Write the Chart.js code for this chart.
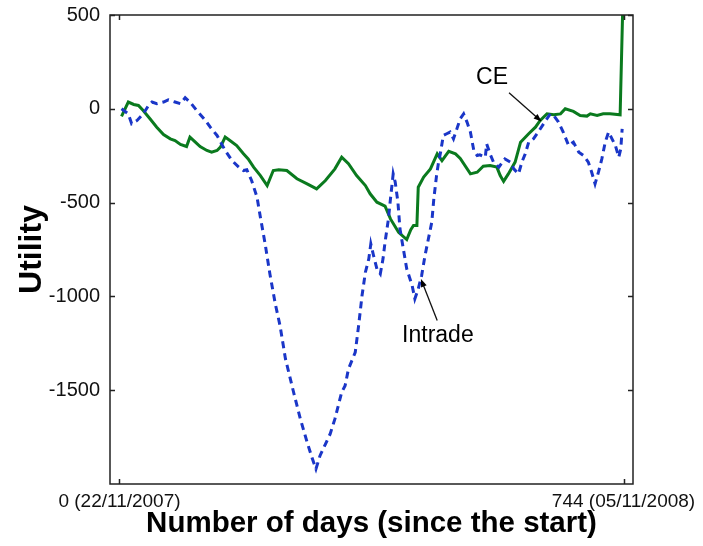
<!DOCTYPE html>
<html>
<head>
<meta charset="utf-8">
<script src="https://cdn.jsdelivr.net/npm/chart.js@4/dist/chart.umd.min.js"></script>
<style>
  html, body { margin: 0; padding: 0; background: #fff; }
  #wrap { width: 703px; height: 546px; }
</style>
</head>
<body>
<div id="wrap"><canvas id="chart" width="703" height="546"></canvas></div>
<script>
// Utility of the CE market vs Intrade, days since 22/11/2007
const ceDays = [3, 13, 21, 28, 35, 45, 55, 65, 75, 82, 90, 99, 104, 112, 119, 129, 136, 144, 149, 156,
    163, 173, 183, 190, 198, 208, 218, 227, 235, 247, 262, 277, 291, 304, 318, 328, 338, 350, 363, 370,
    380, 392, 400, 412, 424, 430, 434, 439, 441, 449, 459, 469, 476, 486, 496, 503, 518, 528, 537, 547,
    557, 562, 567, 574, 584, 592, 604, 614, 621, 631, 641, 651, 658, 670, 680, 690, 695, 705, 714, 724,
    739, 743]
const ceValues = [-40, 36, 23, 18, -9, -53, -98, -137, -160, -169, -190, -201, -151, -178, -201, -222, -231, -222, -204, -151,
    -169, -196, -240, -267, -311, -356, -409, -329, -325, -329, -373, -400, -427, -382, -320, -258, -293, -356, -409, -453,
    -498, -519, -587, -658, -697, -644, -622, -622, -418, -364, -320, -240, -276, -227, -240, -265, -347, -338, -306, -302,
    -311, -356, -387, -347, -284, -178, -133, -98, -62, -27, -32, -27, 0, -14, -36, -39, -27, -36, -27, -27,
    -32, 560]

const intradeDays = [3, 13, 18, 26, 35, 43, 48, 55, 65, 72, 82, 90, 97, 104, 114, 127, 134, 144, 156, 166,
    176, 183, 188, 195, 203, 208, 215, 222, 230, 237, 245, 257, 267, 277, 284, 290, 296, 304, 311, 318,
    328, 333, 338, 348, 353, 358, 363, 368, 371, 375, 380, 385, 389, 392, 397, 400, 404, 407, 411, 414,
    419, 424, 432, 436, 441, 446, 451, 456, 461, 464, 468, 471, 474, 478, 483, 488, 493, 498, 503, 508,
    513, 518, 523, 528, 532, 540, 542, 547, 552, 560, 569, 577, 582, 589, 594, 599, 604, 611, 618, 626,
    631, 636, 641, 648, 655, 663, 670, 678, 685, 692, 697, 702, 707, 712, 717, 722, 727, 732, 737, 740,
    742]
const intradeValues = [0, -27, -80, -62, -27, 18, 36, 27, 36, 48, 36, 27, 59, 36, -9, -62, -98, -142, -222, -276,
    -311, -329, -325, -382, -471, -578, -720, -880, -1040, -1156, -1333, -1511, -1653, -1778, -1858, -1920, -1849, -1787, -1733, -1653,
    -1511, -1476, -1387, -1298, -1156, -996, -871, -800, -720, -782, -853, -880, -800, -711, -587, -480, -347, -391, -498, -640,
    -747, -853, -942, -1013, -960, -889, -782, -693, -604, -480, -356, -284, -231, -142, -133, -124, -160, -107, -53, -27,
    -71, -124, -222, -249, -245, -258, -187, -240, -284, -311, -267, -284, -320, -347, -284, -240, -178, -160, -124, -80,
    -53, -27, -36, -71, -124, -196, -178, -231, -249, -284, -338, -400, -338, -267, -178, -124, -160, -196, -258, -213,
    -107]

const xTicks = [0, 744]
const xTickLabels = ['0 (22/11/2007)', '744 (05/11/2008)']
const yTicks = [-1500, -1000, -500, 0, 500]

// text labels with arrows, in data units: [text, textX, textY, tailX, tailY, tipX, tipY]
const notes = [
    ['CE', 550, 165, 575, 85, 623, -68],
    ['Intrade', 470, -1211, 469, -1129, 445, -907]
]

const FONT = "'Liberation Sans', Arial, Helvetica, sans-serif"
const toPoints = (xs, ys) => xs.map((d, i) => ({x: d, y: ys[i]}))

const framePlugin = {
    id: 'frame',
    afterDatasetsDraw(chart) {
        const {ctx, chartArea: a, scales: {x, y}} = chart
        ctx.save()
        ctx.strokeStyle = '#222'
        ctx.lineWidth = 1.5
        ctx.strokeRect(a.left, a.top, a.right - a.left, a.bottom - a.top)
        const tl = 5
        ctx.beginPath()
        yTicks.forEach(v => {
            const py = Math.round(y.getPixelForValue(v)) + 0.5
            ctx.moveTo(a.left, py); ctx.lineTo(a.left + tl, py)
            ctx.moveTo(a.right, py); ctx.lineTo(a.right - tl, py)
        })
        xTicks.forEach(v => {
            const px = Math.round(x.getPixelForValue(v)) + 0.5
            ctx.moveTo(px, a.bottom); ctx.lineTo(px, a.bottom - tl)
            ctx.moveTo(px, a.top); ctx.lineTo(px, a.top + tl)
        })
        ctx.stroke()

        // annotations
        ctx.fillStyle = '#000'
        ctx.strokeStyle = '#111'
        ctx.lineWidth = 1.3
        ctx.font = '23px ' + FONT
        ctx.textBaseline = 'middle'
        ctx.textAlign = 'center'
        notes.forEach(([text, tx, ty, x0, y0, x1, y1]) => {
            ctx.fillText(text, x.getPixelForValue(tx), y.getPixelForValue(ty))
            const ax = x.getPixelForValue(x0), ay = y.getPixelForValue(y0)
            const bx = x.getPixelForValue(x1), by = y.getPixelForValue(y1)
            const ang = Math.atan2(by - ay, bx - ax)
            const hl = 8, hw = 3
            ctx.beginPath()
            ctx.moveTo(ax, ay)
            ctx.lineTo(bx - Math.cos(ang) * hl * 0.8, by - Math.sin(ang) * hl * 0.8)
            ctx.stroke()
            ctx.beginPath()
            ctx.moveTo(bx, by)
            ctx.lineTo(bx - Math.cos(ang) * hl - Math.sin(ang) * hw, by - Math.sin(ang) * hl + Math.cos(ang) * hw)
            ctx.lineTo(bx - Math.cos(ang) * hl + Math.sin(ang) * hw, by - Math.sin(ang) * hl - Math.cos(ang) * hw)
            ctx.closePath()
            ctx.fill()
        })
        ctx.restore()
    }
}

new Chart(document.getElementById('chart'), {
    type: 'scatter',
    data: {
        datasets: [
            {
                label: 'Intrade',
                data: toPoints(intradeDays, intradeValues),
                showLine: true,
                borderColor: '#1a36c8',
                borderWidth: 3,
                borderDash: [7, 5],
                pointRadius: 0,
                tension: 0
            },
            {
                label: 'CE',
                data: toPoints(ceDays, ceValues),
                showLine: true,
                borderColor: '#0a7a1e',
                borderWidth: 3,
                pointRadius: 0,
                tension: 0
            }
        ]
    },
    options: {
        responsive: false,
        animation: false,
        layout: {padding: {top: 15, right: 70, left: 0, bottom: 0}},
        plugins: {legend: {display: false}, tooltip: {enabled: false}},
        scales: {
            x: {
                type: 'linear',
                min: -14,
                max: 758,
                grid: {display: false, drawTicks: false},
                border: {display: false},
                afterBuildTicks: (s) => { s.ticks = xTicks.map(v => ({value: v})) },
                afterFit: (s) => {
                    s.height = 62
                    s.paddingLeft = 0
                    s.paddingRight = 0
                },
                ticks: {
                    autoSkip: false,
                    maxRotation: 0,
                    padding: 6,
                    color: '#111',
                    font: {family: FONT, size: 19},
                    callback: (v) => xTickLabels[xTicks.indexOf(v)]
                },
                title: {
                    display: true,
                    text: 'Number of days (since the start)',
                    color: '#000',
                    font: {family: FONT, size: 29.5, weight: 'bold'},
                    padding: {top: 0, bottom: 4}
                }
            },
            y: {
                min: -2000,
                max: 500,
                grid: {display: false, drawTicks: false},
                border: {display: false},
                afterBuildTicks: (s) => { s.ticks = yTicks.map(v => ({value: v})) },
                afterFit: (s) => {
                    s.width = 110
                    s.paddingTop = 0
                    s.paddingBottom = 0
                },
                ticks: {
                    padding: 10,
                    color: '#111',
                    font: {family: FONT, size: 20},
                    callback: (v) => String(v)
                },
                title: {
                    display: true,
                    text: 'Utility',
                    color: '#000',
                    font: {family: FONT, size: 32, weight: 'bold'},
                    padding: {top: 13, bottom: 0}
                }
            }
        }
    },
    plugins: [framePlugin]
})
</script>
</body>
</html>
